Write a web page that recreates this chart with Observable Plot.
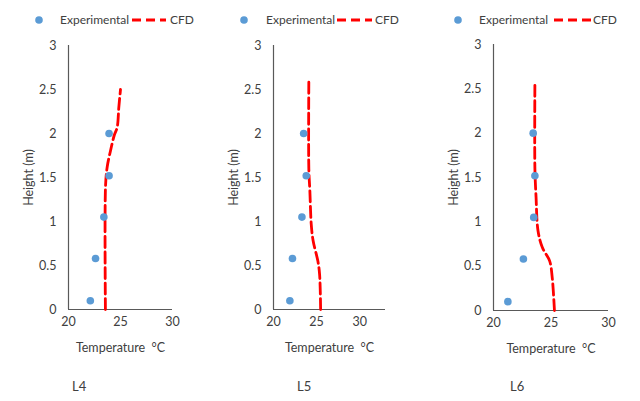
<!DOCTYPE html>
<html>
<head>
<meta charset="utf-8">
<script src="https://cdn.jsdelivr.net/npm/d3@7"></script>
<script src="https://cdn.jsdelivr.net/npm/@observablehq/plot@0.6"></script>
<style>
  html, body { margin: 0; padding: 0; background: #fff; }
  #root { position: relative; width: 640px; height: 401px; font-family: Lato, "Open Sans", sans-serif; color: #404040; }
  .leg { position: absolute; top: 12px; height: 16px; font-size: 12px; line-height: 16px; white-space: nowrap; }
  .ttl { position: absolute; top: 378px; font-size: 13px; }
</style>
</head>
<body>
<div id="root"></div>
<script>
// ---- data ----
const panelNames = ["L4", "L5", "L6"];
const expHeights = [0.1, 0.58, 1.05, 1.52, 2.0];
const expL4 = [22.1, 22.6, 23.4, 23.9, 23.9];
const expL5 = [21.9, 22.2, 23.3, 23.8, 23.5];
const expL6 = [21.25, 22.6, 23.5, 23.6, 23.45];

const cfdHeightsL4 = [0, 1.4, 1.62, 1.81, 1.98, 2.07, 2.3, 2.5];
const cfdL4 = [23.55, 23.56, 23.72, 24.05, 24.4, 24.68, 24.84, 25.0];
const cfdHeightsL5 = [0, 0.4, 0.55, 0.78, 0.97, 1.35, 1.6, 2.6];
const cfdL5 = [25.47, 25.35, 25.15, 24.6, 24.38, 24.22, 24.1, 24.1];
const cfdHeightsL6 = [0, 0.38, 0.56, 0.71, 0.9, 1.28, 1.6, 2.57];
const cfdL6 = [25.3, 25.1, 24.88, 24.25, 23.87, 23.7, 23.6, 23.6];

const xDomains = [[20, 30], [20, 33], [20, 30]];
const xTicks = [20, 25, 30];
const yDomain = [0, 3];
const yTicks = [0, 0.5, 1, 1.5, 2, 2.5, 3];
const seriesNames = ["Experimental", "CFD"];

const expSeries = [expL4, expL5, expL6];
const cfdSeries = [[cfdHeightsL4, cfdL4], [cfdHeightsL5, cfdL5], [cfdHeightsL6, cfdL6]];

// ---- layout ----
const layout = [
  {left: 0,   marginTop: 45, frameW: 104, frameH: 264, legend: [39, 60, 132, 166, 170]},
  {left: 205, marginTop: 45, frameW: 112, frameH: 264, legend: [244, 266, 337, 372, 375]},
  {left: 425, marginTop: 44, frameW: 115, frameH: 266, legend: [458, 479, 554, 591, 593]}
];
const titleX = [72, 297, 510];

const root = document.getElementById("root");
const BLUE = "#5B9BD5", RED = "#FF0000", AX = "#595959", TXT = "#404040";
const fmt = d => String(d);

layout.forEach((L, i) => {
  const mL = 68, mR = 12, mB = 60;
  const exp = expHeights.map((h, j) => ({h, t: expSeries[i][j]}));
  const cfd = cfdSeries[i][0].map((h, j) => ({h, t: cfdSeries[i][1][j]}));
  const chart = Plot.plot({
    width: mL + L.frameW + mR,
    height: L.marginTop + L.frameH + mB,
    marginLeft: mL, marginRight: mR, marginTop: L.marginTop, marginBottom: mB,
    style: {fontFamily: "Lato, 'Open Sans', sans-serif", fontSize: "12.5px", color: TXT, background: "transparent", overflow: "visible"},
    x: {domain: xDomains[i], ticks: xTicks, tickFormat: fmt, tickSize: 0, tickPadding: 8, label: "Temperature  °C", labelAnchor: "center", labelArrow: "none", labelOffset: 42},
    y: {domain: yDomain, ticks: yTicks, tickFormat: fmt, tickSize: 0, tickPadding: 12, label: "Height (m)", labelAnchor: "center", labelArrow: "none", labelOffset: 44},
    marks: [
      Plot.ruleY([yDomain[0]], {stroke: AX, strokeWidth: 1.2}),
      Plot.ruleX([xDomains[i][0]], {stroke: AX, strokeWidth: 1.2}),
      Plot.line(cfd, {x: "t", y: "h", stroke: RED, strokeWidth: 2.8, strokeDasharray: "11,4.5", curve: "catmull-rom"}),
      Plot.dot(exp, {x: "t", y: "h", r: 3.8, fill: BLUE, stroke: "none"})
    ]
  });
  chart.style.position = "absolute";
  chart.style.left = L.left + "px";
  chart.style.top = "0px";
  root.appendChild(chart);

  // legend
  const [mx, tx, l0, l1, cx] = L.legend;
  const sw = document.createElementNS("http://www.w3.org/2000/svg", "svg");
  sw.setAttribute("width", 640); sw.setAttribute("height", 40);
  sw.style.position = "absolute"; sw.style.left = "0px"; sw.style.top = "0px"; sw.style.pointerEvents = "none";
  sw.innerHTML = `<circle cx="${mx}" cy="20" r="3.8" fill="${BLUE}"/>` +
    `<line x1="${l0}" x2="${l1}" y1="20" y2="20" stroke="${RED}" stroke-width="2.8" stroke-dasharray="9,5"/>`;
  root.appendChild(sw);
  const t1 = document.createElement("div");
  t1.className = "leg"; t1.style.left = tx + "px"; t1.textContent = seriesNames[0];
  root.appendChild(t1);
  const t2 = document.createElement("div");
  t2.className = "leg"; t2.style.left = cx + "px"; t2.textContent = seriesNames[1];
  root.appendChild(t2);

  const tt = document.createElement("div");
  tt.className = "ttl"; tt.style.left = titleX[i] + "px"; tt.textContent = panelNames[i];
  root.appendChild(tt);
});
</script>
</body>
</html>
